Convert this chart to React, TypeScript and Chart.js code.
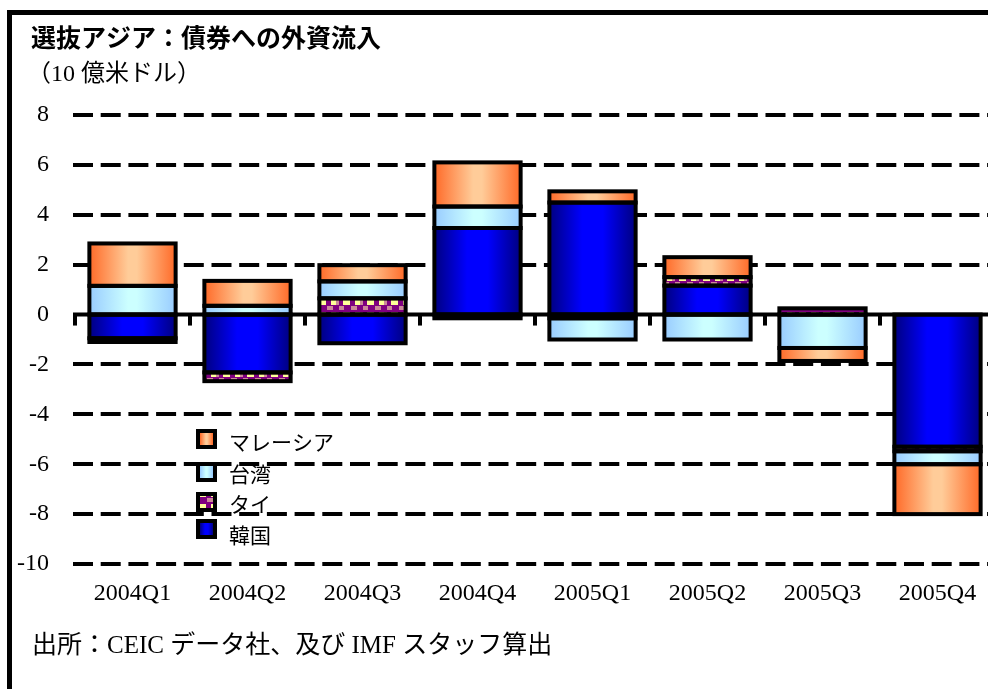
import React, { useEffect, useRef } from "react";
import { Chart, registerables } from "chart.js";

Chart.register(...registerables);

// Quarterly foreign inflows into local bonds, US$ billions
const categories = ["2004Q1", "2004Q2", "2004Q3", "2004Q4", "2005Q1", "2005Q2", "2005Q3", "2005Q4"];
const korea = [-0.95, -2.32, -1.15, 3.47, 4.49, 1.16, 0, -5.3];
const thailand = [-0.15, -0.35, 0.65, -0.15, -0.15, 0.34, 0.25, -0.18];
const taiwan = [1.15, 0.35, 0.68, 0.86, -0.85, -1.0, -1.34, -0.52];
const malaysia = [1.7, 1.0, 0.65, 1.77, 0.45, 0.8, -0.52, -2.0];
const yTicks = [-10, -8, -6, -4, -2, 0, 2, 4, 6, 8];

const seriesNames = { korea: "韓国", thailand: "タイ", taiwan: "台湾", malaysia: "マレーシア" };

const TITLE = "選抜アジア：債券への外資流入";
const UNIT = "（10 億米ドル）";
const SOURCE = "出所：CEIC データ社、及び IMF スタッフ算出";

const SERIF = '"Liberation Serif", "Noto Sans CJK JP", serif';
const BAR_SHARE = 0.75;

type Shade = { edge: string; mid: string; stops: number[] };
const shades: Record<string, Shade> = {
  korea: { edge: "#000080", mid: "#0000FF", stops: [0, 0.38, 0.62, 1] },
  taiwan: { edge: "#99CCFF", mid: "#CCFFFF", stops: [0, 0.45, 0.55, 1] },
  malaysia: { edge: "#FF6A28", mid: "#FFCC99", stops: [0, 0.45, 0.55, 1] },
};

function hGradient(ctx: CanvasRenderingContext2D, x0: number, x1: number, s: Shade) {
  const g = ctx.createLinearGradient(x0, 0, x1, 0);
  g.addColorStop(s.stops[0], s.edge);
  g.addColorStop(s.stops[1], s.mid);
  g.addColorStop(s.stops[2], s.mid);
  g.addColorStop(s.stops[3], s.edge);
  return g;
}

// purple fill with yellow and pink blocks for Thailand
let thaiPatternCache: CanvasPattern | null = null;
function thaiPattern(ctx: CanvasRenderingContext2D): CanvasPattern | string {
  if (thaiPatternCache) return thaiPatternCache;
  const tile = document.createElement("canvas");
  tile.width = 24;
  tile.height = 12;
  const t = tile.getContext("2d");
  if (!t) return "#800080";
  t.fillStyle = "#800080";
  t.fillRect(0, 0, 24, 12);
  t.fillStyle = "#FFFF99";
  t.fillRect(7, 0, 7, 5);
  t.fillRect(19, 0, 5, 5);
  t.fillStyle = "#CC8899";
  t.fillRect(0, 0, 3, 5);
  t.fillRect(3, 6, 5, 4);
  t.fillRect(15, 6, 6, 4);
  const p = ctx.createPattern(tile, "repeat");
  thaiPatternCache = p;
  return p || "#800080";
}

function barFill(key: string) {
  const s = shades[key];
  return (c: any) => {
    const chart = c.chart;
    const xs = chart.scales && chart.scales.x;
    if (c.type !== "data" || !xs || !chart.chartArea) return s.mid;
    const catW = xs.width / categories.length;
    const cx = xs.getPixelForValue(c.dataIndex);
    const w = catW * BAR_SHARE;
    return hGradient(chart.ctx, cx - w / 2, cx + w / 2, s);
  };
}

const framePlugin = {
  id: "frameAndText",
  beforeDraw(chart: any) {
    const ctx = chart.ctx;
    ctx.save();
    ctx.fillStyle = "#FFFFFF";
    ctx.fillRect(0, 0, chart.width, chart.height);
    ctx.restore();
  },
  beforeDatasetsDraw(chart: any) {
    const ctx = chart.ctx;
    const ys = chart.scales.y;
    ctx.save();
    ctx.strokeStyle = "#000";
    ctx.lineWidth = 4;
    ctx.setLineDash([20, 7.7]);
    for (const v of yTicks) {
      if (v === 0) continue;
      const y = Math.round(ys.getPixelForValue(v));
      ctx.beginPath();
      ctx.moveTo(73, y);
      ctx.lineTo(chart.width, y);
      ctx.stroke();
    }
    ctx.restore();
  },
  afterDatasetsDraw(chart: any) {
    const ctx = chart.ctx;
    ctx.save();
    ctx.strokeStyle = "#000";
    ctx.lineWidth = 4;
    ctx.setLineDash([]);
    // black outlines around every stacked segment
    chart.data.datasets.forEach((_: any, di: number) => {
      const meta = chart.getDatasetMeta(di);
      meta.data.forEach((el: any) => {
        const { x, y, base, width } = el.getProps(["x", "y", "base", "width"], true);
        const h = Math.abs(base - y);
        if (h < 0.5) return;
        ctx.strokeRect(x - width / 2, Math.min(y, base), width, h);
      });
    });
    // zero line with category tick marks
    const ys = chart.scales.y;
    const xs = chart.scales.x;
    const y0 = ys.getPixelForValue(0);
    ctx.beginPath();
    ctx.moveTo(73, y0);
    ctx.lineTo(chart.width, y0);
    ctx.stroke();
    const catW = xs.width / categories.length;
    for (let i = 0; i <= categories.length; i++) {
      const x = xs.left + i * catW;
      ctx.beginPath();
      ctx.moveTo(x, y0);
      ctx.lineTo(x, y0 + 11);
      ctx.stroke();
    }
    ctx.restore();
  },
  afterDraw(chart: any) {
    const ctx = chart.ctx;
    ctx.save();
    // frame
    ctx.fillStyle = "#000";
    ctx.fillRect(7, 10, 5, chart.height - 10);
    ctx.fillRect(7, 10, chart.width - 7, 5);

    // headings
    ctx.textBaseline = "middle";
    ctx.textAlign = "left";
    ctx.fillStyle = "#000";
    ctx.font = 'bold 25px "Noto Sans CJK JP", sans-serif';
    ctx.fillText(TITLE, 31, 37);
    ctx.font = "24px " + SERIF;
    ctx.fillText(UNIT, 27, 75);
    ctx.font = "25px " + SERIF;
    ctx.fillText(SOURCE, 32, 646);

    // legend, top item is the last series in the stack
    const ds = chart.data.datasets;
    const rows = [
      { label: ds[3].label, key: "malaysia", top: 429, ty: 442 },
      { label: ds[2].label, key: "taiwan", top: 462, ty: 474 },
      { label: ds[1].label, key: "thailand", top: 492, ty: 504 },
      { label: ds[0].label, key: "korea", top: 519, ty: 535 },
    ];
    for (const r of rows) {
      ctx.fillStyle = "#000";
      ctx.fillRect(196, r.top, 21, 20);
      ctx.fillStyle = r.key === "thailand" ? thaiPattern(ctx) : hGradient(ctx, 200, 213, shades[r.key]);
      ctx.fillRect(200, r.top + 4, 13, 12);
      ctx.fillStyle = "#000";
      ctx.font = '21px "Noto Sans CJK JP", sans-serif';
      ctx.fillText(r.label, 229, r.ty);
    }
    ctx.restore();
  },
};

export default function App() {
  const canvasRef = useRef<HTMLCanvasElement | null>(null);

  useEffect(() => {
    const canvas = canvasRef.current;
    if (!canvas) return;
    const ctx = canvas.getContext("2d");
    if (!ctx) return;

    const chart = new Chart(canvas, {
      type: "bar",
      data: {
        labels: categories,
        datasets: [
          { label: seriesNames.korea, data: korea, backgroundColor: barFill("korea"), borderWidth: 0 },
          { label: seriesNames.thailand, data: thailand, backgroundColor: (c: any) => thaiPattern(c.chart.ctx), borderWidth: 0 },
          { label: seriesNames.taiwan, data: taiwan, backgroundColor: barFill("taiwan"), borderWidth: 0 },
          { label: seriesNames.malaysia, data: malaysia, backgroundColor: barFill("malaysia"), borderWidth: 0 },
        ],
      },
      options: {
        responsive: false,
        devicePixelRatio: 1,
        animation: false,
        datasets: { bar: { barPercentage: BAR_SHARE, categoryPercentage: 1 } },
        layout: { padding: { top: 115, right: 5, left: 0, bottom: 0 } },
        plugins: { legend: { display: false }, tooltip: { enabled: false }, title: { display: false } },
        scales: {
          x: {
            stacked: true,
            grid: { display: false, drawTicks: false },
            border: { display: false },
            ticks: { color: "#000", padding: 15, font: { family: SERIF, size: 24 }, maxRotation: 0 },
            afterFit: (s: any) => {
              s.height = 125;
            },
          },
          y: {
            stacked: true,
            min: -10,
            max: 8,
            grid: { display: false, drawTicks: false },
            border: { display: false },
            ticks: { color: "#000", padding: 26, font: { family: SERIF, size: 24 } },
            afterBuildTicks: (s: any) => {
              s.ticks = yTicks.map((v) => ({ value: v }));
            },
            afterFit: (s: any) => {
              s.width = 75;
            },
          },
        },
      } as any,
      plugins: [framePlugin],
    });

    return () => chart.destroy();
  }, []);

  return (
    <div
      style={{
        position: "absolute",
        left: 0,
        top: 0,
        width: 988,
        height: 689,
        overflow: "hidden",
        background: "#fff",
      }}
    >
      <canvas ref={canvasRef} width={1000} height={689} style={{ display: "block" }} />
    </div>
  );
}
